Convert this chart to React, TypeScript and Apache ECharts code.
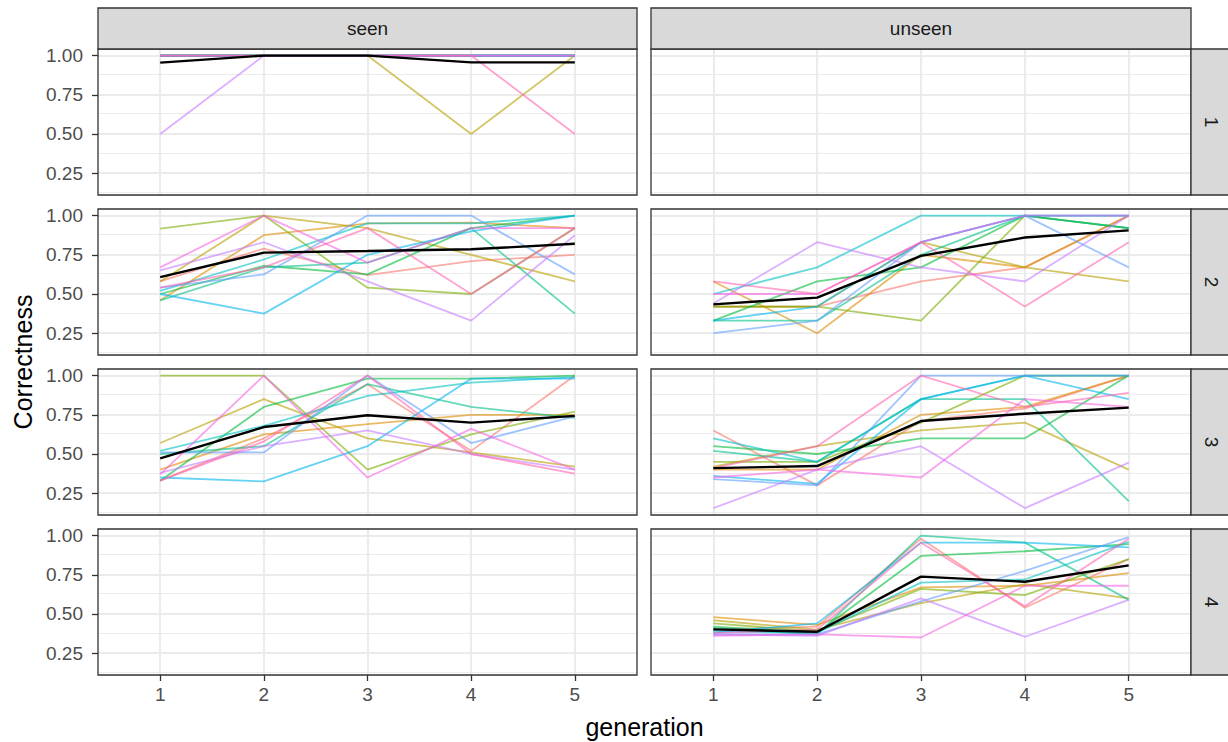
import React, { useEffect, useRef } from "react";
import * as echarts from "echarts";

// ---------- data ----------
const generations = [1, 2, 3, 4, 5];
const groupColors = [
  "#F8766D", "#DE8C00", "#B79F00", "#7CAE00", "#00BA38", "#00C08B",
  "#00BFC4", "#00B4F0", "#619CFF", "#C77CFF", "#F564E3", "#FF64B0",
];
const columnFacets = ["seen", "unseen"];
const rowFacets = ["1", "2", "3", "4"];
const yMajorTicks = [0.25, 0.5, 0.75, 1.0];
const yMinorTicks = [0.125, 0.375, 0.625, 0.875];

// row 1
const seenRow1 = [
  [1, 1, 1, 1, 1],
  [1, 1, 1, 1, 1],
  [1, 1, 1, 0.5, 1],
  [1, 1, 1, 1, 1],
  [1, 1, 1, 1, 1],
  [1, 1, 1, 1, 1],
  [1, 1, 1, 1, 1],
  [1, 1, 1, 1, 1],
  [1, 1, 1, 1, 1],
  [0.5, 1, 1, 1, 1],
  [1, 1, 1, 1, 1],
  [1, 1, 1, 1, 0.5],
];
const meanSeenRow1 = [0.955, 1.0, 1.0, 0.957, 0.957];
const unseenRow1: number[][] = [];

// row 2
const seenRow2 = [
  [0.58, 0.79, 0.62, 0.71, 0.75],
  [0.46, 0.875, 0.95, 0.955, 0.92],
  [0.58, 1.0, 0.92, 0.75, 0.58],
  [0.917, 1.0, 0.54, 0.5, 0.92],
  [0.5, 0.68, 0.625, 0.92, 1.0],
  [0.46, 0.67, 0.7, 0.92, 0.375],
  [0.52, 0.72, 0.95, 0.95, 1.0],
  [0.5, 0.375, 0.75, 0.9, 1.0],
  [0.54, 0.625, 1.0, 1.0, 0.625],
  [0.65, 0.83, 0.58, 0.33, 0.875],
  [0.67, 1.0, 0.7, 0.92, 0.92],
  [0.54, 0.67, 0.92, 0.5, 0.92],
];
const meanSeenRow2 = [0.608, 0.764, 0.774, 0.785, 0.82];
const unseenRow2 = [
  [0.42, 0.42, 0.58, 0.67, 1.0],
  [0.58, 0.25, 0.75, 0.67, 1.0],
  [0.42, 0.42, 0.83, 0.67, 0.58],
  [0.42, 0.42, 0.33, 1.0, 0.92],
  [0.33, 0.58, 0.67, 1.0, 0.92],
  [0.33, 0.33, 0.75, 1.0, 0.92],
  [0.5, 0.67, 1.0, 1.0, 1.0],
  [0.33, 0.42, 0.83, 1.0, 1.0],
  [0.25, 0.33, 0.83, 1.0, 0.67],
  [0.44, 0.83, 0.67, 0.58, 1.0],
  [0.5, 0.5, 0.83, 1.0, 1.0],
  [0.58, 0.5, 0.83, 0.42, 0.83],
];
const meanUnseenRow2 = [0.434, 0.477, 0.743, 0.86, 0.906];

// row 3
const seenRow3 = [
  [0.33, 0.6, 0.945, 0.52, 1.0],
  [0.4, 0.625, 0.69, 0.75, 0.75],
  [0.57, 0.85, 0.6, 0.51, 0.42],
  [1.0, 1.0, 0.4, 0.625, 0.77],
  [0.33, 0.8, 0.98, 0.98, 1.0],
  [0.5, 0.55, 0.945, 0.8, 0.73],
  [0.52, 0.68, 0.87, 0.955, 0.99],
  [0.35, 0.325, 0.55, 0.98, 0.98],
  [0.51, 0.51, 1.0, 0.57, 0.74],
  [0.38, 0.55, 0.65, 0.5, 0.4],
  [0.37, 1.0, 0.35, 0.66, 0.4],
  [0.33, 0.58, 1.0, 0.5, 0.375],
];
const meanSeenRow3 = [0.472, 0.672, 0.747, 0.7, 0.743];
const unseenRow3 = [
  [0.65, 0.3, 0.71, 0.79, 1.0],
  [0.4, 0.4, 0.75, 0.8, 1.0],
  [0.42, 0.55, 0.65, 0.7, 0.4],
  [0.45, 0.45, 0.7, 1.0, 1.0],
  [0.55, 0.5, 0.6, 0.6, 1.0],
  [0.52, 0.45, 0.85, 0.85, 0.2],
  [0.6, 0.45, 0.85, 1.0, 1.0],
  [0.36, 0.31, 0.85, 1.0, 0.85],
  [0.34, 0.3, 1.0, 1.0, 1.0],
  [0.155, 0.4, 0.55, 0.155, 0.445],
  [0.35, 0.4, 0.35, 0.85, 0.8],
  [0.41, 0.55, 1.0, 0.8, 0.89],
];
const meanUnseenRow3 = [0.41, 0.423, 0.71, 0.757, 0.796];

// row 4
const seenRow4: number[][] = [];
const unseenRow4 = [
  [0.4, 0.42, 0.98, 0.54, 0.85],
  [0.48, 0.43, 0.67, 0.68, 0.76],
  [0.46, 0.4, 0.57, 0.69, 0.6],
  [0.44, 0.39, 0.66, 0.62, 0.85],
  [0.42, 0.38, 0.87, 0.9, 0.945],
  [0.41, 0.37, 1.0, 0.955, 0.59],
  [0.39, 0.38, 0.7, 0.72, 0.96],
  [0.38, 0.44, 0.955, 0.955, 0.925],
  [0.37, 0.37, 0.58, 0.775, 0.99],
  [0.37, 0.36, 0.6, 0.355, 0.59],
  [0.36, 0.37, 0.35, 0.68, 0.68],
  [0.38, 0.4, 0.955, 0.55, 0.98],
];
const meanUnseenRow4 = [0.402, 0.387, 0.738, 0.706, 0.81];

const panelData = [
  [{ lines: seenRow1, mean: meanSeenRow1 }, { lines: unseenRow1, mean: null }],
  [{ lines: seenRow2, mean: meanSeenRow2 }, { lines: unseenRow2, mean: meanUnseenRow2 }],
  [{ lines: seenRow3, mean: meanSeenRow3 }, { lines: unseenRow3, mean: meanUnseenRow3 }],
  [{ lines: seenRow4, mean: null }, { lines: unseenRow4, mean: meanUnseenRow4 }],
];

// ---------- layout ----------
const FONT = "'Liberation Sans', Arial, Helvetica, sans-serif";
const X_MIN = 0.4;
const X_MAX = 5.6;
const Y_MIN = 0.111;
const Y_MAX = 1.042;
const PANEL_LEFT = [98, 651];
const PANEL_WIDTH = [539, 540];
const PANEL_TOP = [49, 209, 369, 529];
const PANEL_HEIGHT = 146;
const STRIP_TOP = 8;
const STRIP_RIGHT_X = 1191;

export default function App() {
  const ref = useRef<HTMLDivElement>(null);

  useEffect(() => {
    const chart = echarts.init(ref.current!, null, { renderer: "svg" });
    const grids: any[] = [];
    const xAxes: any[] = [];
    const yAxes: any[] = [];
    const series: any[] = [];
    const graphics: any[] = [];
    const gridLine = (width: number) => ({ color: "#ebebeb", type: "solid", width });

    rowFacets.forEach((rowLabel, r) => {
      columnFacets.forEach((colLabel, c) => {
        const gi = grids.length;
        const isBottom = r === rowFacets.length - 1;
        const isLeft = c === 0;
        grids.push({
          left: PANEL_LEFT[c],
          top: PANEL_TOP[r],
          width: PANEL_WIDTH[c],
          height: PANEL_HEIGHT,
          show: false,
        });
        xAxes.push({
          gridIndex: gi,
          type: "value",
          min: X_MIN,
          max: X_MAX,
          axisLine: { show: false },
          splitLine: { show: false },
          axisTick: {
            show: isBottom,
            customValues: generations,
            length: 6,
            lineStyle: { color: "#333333", width: 1.3 },
          },
          axisLabel: {
            show: isBottom,
            customValues: generations,
            color: "#4d4d4d",
            fontSize: 19,
            fontFamily: FONT,
            margin: 10,
            formatter: (v: number) => String(v),
          },
        });
        yAxes.push({
          gridIndex: gi,
          type: "value",
          min: Y_MIN,
          max: Y_MAX,
          axisLine: { show: false },
          splitLine: { show: false },
          axisTick: {
            show: isLeft,
            customValues: yMajorTicks,
            length: 6,
            lineStyle: { color: "#333333", width: 1.3 },
          },
          axisLabel: {
            show: isLeft,
            customValues: yMajorTicks,
            color: "#4d4d4d",
            fontSize: 19,
            fontFamily: FONT,
            margin: 15,
            formatter: (v: number) => v.toFixed(2),
          },
        });

        // grid lines
        series.push({
          type: "line",
          xAxisIndex: gi,
          yAxisIndex: gi,
          data: [],
          silent: true,
          z: 1,
          markLine: {
            silent: true,
            symbol: ["none", "none"],
            label: { show: false },
            emphasis: { disabled: true },
            lineStyle: gridLine(2),
            data: [
              ...yMinorTicks.map((v) => ({ yAxis: v, lineStyle: gridLine(1.2) })),
              ...yMajorTicks.map((v) => ({ yAxis: v, lineStyle: gridLine(2.1) })),
              ...generations.map((v) => ({ xAxis: v, lineStyle: gridLine(2.1) })),
            ],
          },
        });

        const panel = panelData[r][c];
        panel.lines.forEach((vals, i) => {
          series.push({
            type: "line",
            xAxisIndex: gi,
            yAxisIndex: gi,
            data: generations.map((g, k) => [g, vals[k]]),
            symbol: "none",
            silent: true,
            z: 10 + i,
            lineStyle: { color: groupColors[i], width: 1.8, opacity: 0.6 },
          });
        });
        if (panel.mean) {
          const m = panel.mean;
          series.push({
            type: "line",
            xAxisIndex: gi,
            yAxisIndex: gi,
            data: generations.map((g, k) => [g, m[k]]),
            symbol: "none",
            silent: true,
            z: 40,
            lineStyle: { color: "#000000", width: 2.4 },
          });
        }

        // panel border
        graphics.push({
          type: "rect",
          z: 100,
          shape: { x: PANEL_LEFT[c], y: PANEL_TOP[r], width: PANEL_WIDTH[c], height: PANEL_HEIGHT },
          style: { fill: "none", stroke: "#333333", lineWidth: 1.3 },
        });

        // top strips
        if (r === 0) {
          graphics.push({
            type: "rect",
            z: 100,
            shape: { x: PANEL_LEFT[c], y: STRIP_TOP, width: PANEL_WIDTH[c], height: PANEL_TOP[0] - STRIP_TOP },
            style: { fill: "#d9d9d9", stroke: "#333333", lineWidth: 1.3 },
          });
          graphics.push({
            type: "text",
            z: 101,
            x: PANEL_LEFT[c] + PANEL_WIDTH[c] / 2,
            y: (STRIP_TOP + PANEL_TOP[0]) / 2,
            style: {
              text: colLabel,
              fontSize: 19,
              fontFamily: FONT,
              fill: "#1a1a1a",
              align: "center",
              verticalAlign: "middle",
            },
          });
        }
      });

      // right strip
      graphics.push({
        type: "rect",
        z: 100,
        shape: { x: STRIP_RIGHT_X, y: PANEL_TOP[r], width: 40, height: PANEL_HEIGHT },
        style: { fill: "#d9d9d9", stroke: "#333333", lineWidth: 1.3 },
      });
      graphics.push({
        type: "text",
        z: 101,
        x: STRIP_RIGHT_X + 20,
        y: PANEL_TOP[r] + PANEL_HEIGHT / 2,
        rotation: -Math.PI / 2,
        style: {
          text: rowLabel,
          fontSize: 19,
          fontFamily: FONT,
          fill: "#1a1a1a",
          align: "center",
          verticalAlign: "middle",
        },
      });
    });

    // axis titles
    graphics.push({
      type: "text",
      z: 101,
      x: (PANEL_LEFT[0] + PANEL_LEFT[1] + PANEL_WIDTH[1]) / 2,
      y: 727,
      style: {
        text: "generation",
        fontSize: 25,
        fontFamily: FONT,
        fill: "#000000",
        align: "center",
        verticalAlign: "middle",
      },
    });
    graphics.push({
      type: "text",
      z: 101,
      x: 23,
      y: (PANEL_TOP[0] + PANEL_TOP[3] + PANEL_HEIGHT) / 2,
      rotation: Math.PI / 2,
      style: {
        text: "Correctness",
        fontSize: 25,
        fontFamily: FONT,
        fill: "#000000",
        align: "center",
        verticalAlign: "middle",
      },
    });

    chart.setOption({
      animation: false,
      backgroundColor: "#ffffff",
      grid: grids,
      xAxis: xAxes,
      yAxis: yAxes,
      series,
      graphic: { elements: graphics },
    });

    return () => {
      chart.dispose();
    };
  }, []);

  return (
    <div
      ref={ref}
      style={{ position: "absolute", left: 0, top: 0, width: 1228, height: 742 }}
    />
  );
}
